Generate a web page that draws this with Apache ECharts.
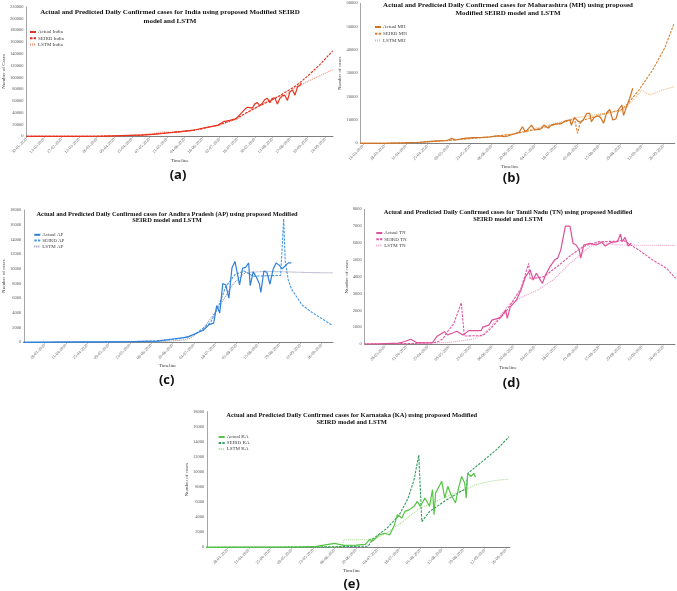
<!DOCTYPE html>
<html><head><meta charset="utf-8">
<script src="https://cdn.jsdelivr.net/npm/echarts@6/dist/echarts.min.js"></script>
<style>html,body{margin:0;padding:0;background:#fff}#c{width:677px;height:591px}</style>
</head><body><div id="c"></div>
<script>
// ---- tick labels ----
const ticksIndia = ['30-01-2020','13-02-2020','27-02-2020','12-03-2020','26-03-2020','09-04-2020','23-04-2020','07-05-2020','21-05-2020','04-06-2020','18-06-2020','02-07-2020','16-07-2020','30-07-2020','13-08-2020','27-08-2020','10-09-2020','24-09-2020'];
const ticksState = ['14-03-2020','28-03-2020','11-04-2020','25-04-2020','09-05-2020','23-05-2020','06-06-2020','20-06-2020','04-07-2020','18-07-2020','01-08-2020','15-08-2020','29-08-2020','12-09-2020','26-09-2020'];

// ---- (a) India ----
const indiaActual = [['01-30',1],['02-15',0],['03-02',2],['03-15',20],['03-25',90],['04-01',400],['04-10',900],['04-20',1500],['05-01',1900],['05-10',3200],['05-20',5600],['05-25',6500],['06-01',8000],['06-10',9900],['06-20',14500],['06-30',18500],['07-05',24800],['07-10',27000],['07-15',29500],['07-19',38900],['07-22',45700],['07-24',49300],['07-26',48700],['07-28',47700],['07-30',55100],['08-01',57100],['08-03',52100],['08-05',56300],['08-07',62500],['08-09',64400],['08-11',56900],['08-13',64600],['08-15',65000],['08-17',55000],['08-19',64500],['08-21',68900],['08-23',69200],['08-25',60900],['08-27',75800],['08-29',78500],['08-31',69900],['09-02',83900],['09-04',86400],['09-05',90600]];
const indiaSeird = [['01-30',0],['03-15',30],['04-01',300],['04-15',900],['05-01',2200],['05-15',4300],['06-01',7800],['06-15',11500],['07-01',19000],['07-15',30000],['08-01',50000],['08-15',64000],['09-01',86000],['09-10',102000],['09-20',122000],['09-30',145000]];
const indiaLstm = [['01-30',0],['03-15',20],['04-01',250],['04-20',1300],['05-10',4500],['05-18',7600],['05-25',6600],['06-10',9800],['07-01',18500],['07-15',28500],['08-01',50000],['08-15',66000],['08-25',72000],['09-01',84000],['09-05',88000],['09-15',98000],['09-30',113000]];

// ---- (b) Maharashtra ----
const mhActual = [['03-10',0],['03-20',10],['04-01',80],['04-10',200],['04-20',450],['05-01',1000],['05-08',1200],['05-11',2100],['05-13',1400],['05-20',2200],['05-25',2400],['05-31',2500],['06-05',2700],['06-10',3200],['06-15',2800],['06-20',3900],['06-24',4800],['06-26',7100],['06-28',4900],['07-02',7800],['07-04',5700],['07-08',6100],['07-10',7800],['07-13',6500],['07-15',7900],['07-18',8300],['07-21',8300],['07-24',9600],['07-27',10000],['07-28',7700],['07-30',11100],['08-01',9600],['08-03',8900],['08-05',10300],['08-07',12800],['08-09',12800],['08-10',9300],['08-12',11100],['08-14',11800],['08-16',11100],['08-18',8600],['08-20',13100],['08-22',14500],['08-24',10000],['08-26',10400],['08-28',14700],['08-30',16400],['08-31',11900],['09-02',15700],['09-04',19200],['09-06',23600]];
const mhSeird = [['03-10',0],['04-01',60],['04-20',400],['05-10',1300],['06-01',2500],['06-20',3900],['07-05',6000],['07-20',8500],['07-30',10500],['08-01',4300],['08-03',9500],['08-15',12000],['08-30',14500],['09-03',17100],['09-10',22800],['09-19',31400],['09-27',41000],['10-03',51400]];
const mhLstm = [['03-10',0],['04-01',50],['04-20',350],['05-10',1200],['06-01',2600],['06-20',4000],['07-05',6500],['07-20',9000],['08-01',11000],['08-15',12500],['08-30',14000],['09-02',15700],['09-07',19000],['09-12',22800],['09-17',20700],['09-24',22500],['10-03',24300]];

// ---- (c) Andhra Pradesh ----
const apActual = [['03-14',0],['04-01',20],['04-20',50],['05-10',60],['05-25',80],['06-10',150],['06-20',450],['06-30',700],['07-05',1200],['07-10',1600],['07-14',2400],['07-17',2600],['07-19',5000],['07-21',4000],['07-23',8000],['07-25',7800],['07-27',6000],['07-29',10100],['07-31',11000],['08-02',8900],['08-03',7800],['08-05',10100],['08-07',10200],['08-09',10800],['08-10',7700],['08-12',9600],['08-14',8900],['08-16',8000],['08-17',6800],['08-19',9700],['08-21',9500],['08-23',7900],['08-25',9900],['08-27',10800],['08-29',10500],['08-31',10000],['09-02',10400],['09-04',10800],['09-06',10800]];
const apSeird = [['03-14',0],['04-20',30],['05-20',70],['06-10',200],['06-25',500],['07-05',1100],['07-15',2700],['07-20',4800],['07-25',7600],['07-31',9200],['08-06',9700],['08-12',9000],['08-30',9100],['09-01',16800],['09-02',11000],['09-04',8500],['09-06',7300],['09-13',5100],['09-20',4000],['09-27',3100],['10-03',2300]];
const apLstm = [['03-14',0],['05-20',20],['06-10',60],['06-25',250],['07-01',500],['07-10',1800],['07-17',3800],['07-24',6000],['07-30',8000],['08-07',9500],['08-20',9650],['09-01',9600],['09-15',9500],['10-03',9450]];

// ---- (d) Tamil Nadu ----
const tnActual = [['03-14',0],['03-25',5],['04-06',50],['04-10',150],['04-14',280],['04-18',80],['04-28',60],['05-01',440],['05-06',730],['05-08',540],['05-11',640],['05-14',760],['05-18',540],['05-20',660],['05-22',800],['05-30',800],['05-31',1000],['06-04',1120],['06-06',1420],['06-10',1520],['06-12',1610],['06-15',2020],['06-16',1520],['06-18',2200],['06-22',2610],['06-25',3210],['06-28',4000],['07-01',4400],['07-03',3800],['07-05',4200],['07-07',3900],['07-09',3600],['07-11',4100],['07-14',4600],['07-17',5000],['07-19',5100],['07-21',5600],['07-24',7000],['07-27',7000],['07-29',5980],['07-31',5880],['08-02',5600],['08-03',5100],['08-05',5880],['08-09',5980],['08-13',5880],['08-17',6040],['08-19',5820],['08-23',6040],['08-27',6080],['08-29',6530],['08-30',6080],['09-01',6330],['09-03',5820],['09-05',5980]];
const tnSeird = [['03-14',0],['04-15',30],['05-01',100],['05-05',300],['05-08',730],['05-12',1200],['05-17',2450],['05-19',475],['05-31',500],['06-05',900],['06-15',1900],['06-25',3300],['06-30',4790],['07-01',3850],['07-10',4000],['07-20',4700],['07-28',5300],['08-05',5800],['08-15',6080],['08-25',6100],['08-31',6150],['09-03',5980],['09-10',5580],['09-19',4990],['09-28',4500],['10-04',3900]];
const tnLstm = [['03-14',0],['04-20',30],['05-10',100],['05-25',300],['06-01',630],['06-08',1300],['06-18',2420],['06-28',2900],['07-06',3210],['07-16',3800],['07-27',4790],['08-09',5780],['08-16',6060],['08-25',5900],['09-05',5870],['09-20',5860],['10-04',5850]];

// ---- (e) Karnataka ----
const kaActual = [['03-14',0],['04-01',15],['04-20',20],['05-10',40],['05-25',120],['06-06',530],['06-12',250],['06-20',300],['06-26',400],['06-29',1060],['07-01',840],['07-05',1640],['07-09',1860],['07-12',1640],['07-15',2880],['07-17',4330],['07-20',3890],['07-22',4770],['07-25',5000],['07-28',5440],['07-30',6100],['08-01',5440],['08-04',6550],['08-07',5440],['08-09',7650],['08-10',4330],['08-11',7210],['08-15',8760],['08-17',6540],['08-19',8100],['08-21',7000],['08-24',5880],['08-26',7880],['08-28',9400],['08-30',8540],['08-31',6540],['09-01',9820],['09-03',9400],['09-05',9820],['09-06',9290]];
const kaSeird = [['03-14',0],['05-01',10],['06-01',60],['06-28',150],['07-01',1100],['07-10',2500],['07-18',4200],['07-24',6500],['07-28',9000],['07-31',12250],['08-02',3400],['08-07',4730],['08-18',6280],['08-31',7830],['09-01',9820],['09-10',11300],['09-20',13000],['09-28',14680]];
const kaLstm = [['03-14',0],['05-10',20],['06-11',60],['06-12',1000],['06-28',1000],['07-03',1200],['07-10',1900],['07-20',3300],['07-31',5100],['08-10',6000],['08-20',6900],['08-31',7700],['09-06',8300],['09-12',8600],['09-20',8900],['09-28',9050]];

// ---- helpers ----
const BASE = Date.UTC(2020,0,1);
function dayMD(s){const [m,d]=s.split('-').map(Number);return (Date.UTC(2020,m-1,d)-BASE)/864e5;}
function dayDMY(s){const [d,m,y]=s.split('-').map(Number);return (Date.UTC(y,m-1,d)-BASE)/864e5;}
function toXY(arr){return arr.map(p=>[dayMD(p[0]),p[1]]);}

const SERIF = '"Liberation Serif", "Times New Roman", serif';
const panels = [
  {key:'India', ticks:ticksIndia, xmin:29, xmax:273.3, ymax:220000, yint:20000, yname:'Number of Cases',
   grid:{left:23,right:344,top:6.7,bottom:454.7}, nameGapY:16.5, nameGapX:22, xPad:0,
   legend:{left:29,top:29.5,gap:1.3},
   colors:['#e8331f','#e02a1a','#f08b72'],
   data:[indiaActual,indiaSeird,indiaLstm], names:['Actual India','SEIRD India','LSTM India']},
  {key:'MH', ticks:ticksState, xmin:71.5, xmax:276.4, ymax:60000, yint:10000, yname:'Number of cases',
   grid:{left:360.7,right:2.3,top:3.3,bottom:447.7}, nameGapY:12, nameGapX:20, xPad:16,
   legend:{left:374,top:24.5,gap:1.7},
   colors:['#cf7427','#d9822f','#f0b67f'],
   data:[mhActual,mhSeird,mhLstm], names:['Actual MH','SEIRD MH','LSTM MH']},
  {key:'AP', ticks:ticksState, xmin:73.5, xmax:276.4, ymax:18000, yint:2000, yname:'Number of cases',
   grid:{left:22.7,right:344,top:210,bottom:248.7}, nameGapY:14, nameGapX:19.5, xPad:22,
   legend:{left:33.3,top:232.3,gap:0.8},
   colors:['#2f80d8','#4a98e6','#8f8fb5'],
   data:[apActual,apSeird,apLstm], names:['Actual AP','SEIRD AP','LSTM AP']},
  {key:'TN', ticks:ticksState, xmin:73.9, xmax:276.6, ymax:8000, yint:1000, yname:'Number of cases',
   grid:{left:364.7,right:2,top:209.3,bottom:247}, nameGapY:15, nameGapX:19, xPad:24,
   legend:{left:375.3,top:230.5,gap:1.3},
   colors:['#e0509a','#e0589f','#ee9ac6'],
   data:[tnActual,tnSeird,tnLstm], names:['Actual TN','SEIRD TN','LSTM TN']},
  {key:'KA', ticks:ticksState, xmin:73.9, xmax:271.6, ymax:18000, yint:2000, yname:'Number of cases',
   grid:{left:207.3,right:167,top:411.7,bottom:43.7}, nameGapY:16, nameGapX:19, xPad:14,
   legend:{left:217.7,top:434.5,gap:1},
   colors:['#55c445','#2f9e5c','#a6df8e'],
   data:[kaActual,kaSeird,kaLstm], names:['Actual KA','SEIRD KA','LSTM KA']}
];

const titles = [
  {x:170, y1:12, y2:20.8, size:7, l1:'Actual and Predicted Daily Confirmed cases for India using proposed Modified SEIRD', l2:'model and LSTM'},
  {x:508, y1:5, y2:13.3, size:7, l1:'Actual and Predicted Daily Confirmed cases for Maharashtra (MH) using proposed', l2:'Modified SEIRD model and LSTM'},
  {x:167, y1:214, y2:220.7, size:6.4, l1:'Actual and Predicted Daily Confirmed cases for Andhra Pradesh (AP) using proposed Modified', l2:'SEIRD model and LSTM'},
  {x:508, y1:212, y2:219.3, size:6.4, l1:'Actual and Predicted Daily Confirmed cases for Tamil Nadu (TN) using proposed Modified', l2:'SEIRD model and LSTM'},
  {x:351.7, y1:415, y2:422.3, size:6.5, l1:'Actual and Predicted Daily Confirmed cases for Karnataka (KA) using proposed Modified', l2:'SEIRD model and LSTM'}
];
const captions = [
  {t:'(a)', x:178, y:175}, {t:'(b)', x:511.3, y:178.3}, {t:'(c)', x:166.7, y:380},
  {t:'(d)', x:511.3, y:383.3}, {t:'(e)', x:351.7, y:584}
];

const grid=[], xAxis=[], yAxis=[], legend=[], series=[], graphic=[];
const lineTypes = ['solid',[2.5,1.2],[1,1]];
panels.forEach((p,i)=>{
  grid.push(Object.assign({}, p.grid));
  const tickVals = p.ticks.map(dayDMY);
  const labelMap = {}; p.ticks.forEach((t,k)=>{labelMap[tickVals[k]]=t;});
  xAxis.push({type:'value', gridIndex:i, min:p.xmin, max:p.xmax,
    name:'Timeline', nameLocation:'middle', nameGap:p.nameGapX,
    nameTextStyle:{fontFamily:SERIF, fontSize:5, color:'#404040', padding:[0,p.xPad,0,0]},
    axisLine:{show:true, onZero:false, lineStyle:{color:'#7f7f7f', width:1}},
    axisTick:{show:true, length:1.5, customValues:tickVals, lineStyle:{color:'#7f7f7f', width:0.6}},
    axisLabel:{customValues:tickVals, rotate:45, margin:2.5, fontFamily:SERIF, fontSize:4.2, color:'#595959',
      formatter:v=>labelMap[Math.round(v)]||''},
    splitLine:{show:false}});
  yAxis.push({type:'value', gridIndex:i, min:0, max:p.ymax, interval:p.yint,
    name:p.yname, nameLocation:'middle', nameGap:p.nameGapY,
    nameTextStyle:{fontFamily:SERIF, fontSize:5, color:'#404040'},
    axisLine:{show:true, lineStyle:{color:'#a6a6a6', width:1}},
    axisTick:{show:false},
    axisLabel:{margin:3, fontFamily:SERIF, fontSize:4.5, color:'#595959', formatter:v=>String(v)},
    splitLine:{show:false}});
  legend.push({orient:'vertical', left:p.legend.left, top:p.legend.top, padding:0,
    itemGap:p.legend.gap, itemWidth:6, itemHeight:4, data:p.names,
    itemStyle:{opacity:0},
    textStyle:{fontFamily:SERIF, fontSize:5, color:'#404040', padding:[0,0,0,-3]}});
  p.data.forEach((d,k)=>{
    series.push({type:'line', name:p.names[k], xAxisIndex:i, yAxisIndex:i, data:toXY(d),
      symbol:'none', smooth:false, animation:false, z: 3-k,
      lineStyle:{color:p.colors[k], width:k===0?1.2:1.1, type:lineTypes[k]},
      itemStyle:{color:p.colors[k]}});
  });
});
titles.forEach(t=>{
  [[t.l1,t.y1],[t.l2,t.y2]].forEach(([s,y])=>{
    graphic.push({type:'text', x:t.x, y:y, silent:true, style:{text:s, fill:'#111',
      font:'bold '+t.size+'px '+SERIF, textAlign:'center', textVerticalAlign:'middle', align:'center', verticalAlign:'middle'}});
  });
});
captions.forEach(c=>{
  graphic.push({type:'text', x:c.x, y:c.y, silent:true, style:{text:c.t, fill:'#111',
    font:'bold 13px "Open Sans", "Noto Sans", sans-serif', textAlign:'center', textVerticalAlign:'middle', align:'center', verticalAlign:'middle'}});
});

const chart = echarts.init(document.getElementById('c'), null, {renderer:'canvas'});
chart.setOption({backgroundColor:'#fff', animation:false, grid, xAxis, yAxis, legend, series, graphic});
</script></body></html>
